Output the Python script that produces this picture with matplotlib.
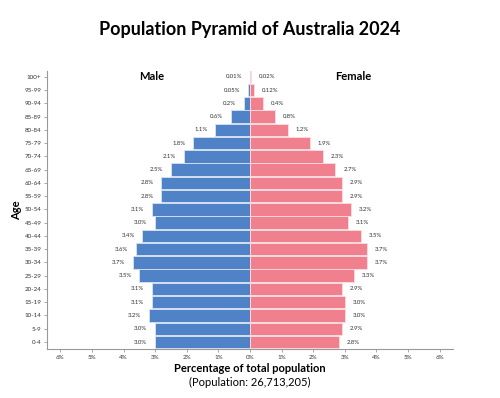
import matplotlib
matplotlib.use("Agg")
import matplotlib.pyplot as plt

plt.rcParams['font.family'] = ['Lato', 'DejaVu Sans']

age_groups = ['100+', '95-99', '90-94', '85-89', '80-84', '75-79', '70-74', '65-69',
              '60-64', '55-59', '50-54', '45-49', '40-44', '35-39', '30-34', '25-29',
              '20-24', '15-19', '10-14', '5-9', '0-4']
male = [0.01, 0.05, 0.2, 0.6, 1.1, 1.8, 2.1, 2.5, 2.8, 2.8, 3.1, 3.0, 3.4, 3.6, 3.7, 3.5,
        3.1, 3.1, 3.2, 3.0, 3.0]
female = [0.02, 0.12, 0.4, 0.8, 1.2, 1.9, 2.3, 2.7, 2.9, 2.9, 3.2, 3.1, 3.5, 3.7, 3.7, 3.3,
          2.9, 3.0, 3.0, 2.9, 2.8]
male_labels = ['0.01%', '0.05%', '0.2%', '0.6%', '1.1%', '1.8%', '2.1%', '2.5%', '2.8%', '2.8%',
               '3.1%', '3.0%', '3.4%', '3.6%', '3.7%', '3.5%', '3.1%', '3.1%', '3.2%', '3.0%', '3.0%']
female_labels = ['0.02%', '0.12%', '0.4%', '0.8%', '1.2%', '1.9%', '2.3%', '2.7%', '2.9%', '2.9%',
                 '3.2%', '3.1%', '3.5%', '3.7%', '3.7%', '3.3%', '2.9%', '3.0%', '3.0%', '2.9%', '2.8%']
xticks = [-6, -5, -4, -3, -2, -1, 0, 1, 2, 3, 4, 5, 6]
xtick_labels = ['6%', '5%', '4%', '3%', '2%', '1%', '0%', '1%', '2%', '3%', '4%', '5%', '6%']

blue = '#4f82c7'
pink = '#f0808e'

fig = plt.figure(figsize=(5, 3.98), dpi=100)
ax = fig.add_axes([0.094, 0.123, 0.812, 0.699])

n = len(age_groups)
ypos = [n - 1 - i for i in range(n)]

ax.barh(ypos, [-m for m in male], height=0.94, color=blue, edgecolor='#d8e3f3', linewidth=0.6)
ax.barh(ypos, female, height=0.94, color=pink, edgecolor='#fbdde1', linewidth=0.6)

for y, m, lab in zip(ypos, male, male_labels):
    ax.text(-m - 0.25, y, lab, ha='right', va='center', fontsize=4.3, color='#333333')
for y, f, lab in zip(ypos, female, female_labels):
    ax.text(f + 0.25, y, lab, ha='left', va='center', fontsize=4.3, color='#333333')

ax.set_xlim(-6.42, 6.42)
ax.set_ylim(-0.53, n - 0.55)
ax.set_yticks(ypos)
ax.set_yticklabels(age_groups, fontsize=4.5, color='#333333')
ax.set_xticks(xticks)
ax.set_xticklabels(xtick_labels, fontsize=4.5, color='#333333')
ax.tick_params(axis='both', length=2, width=0.6, color='#999999', pad=2)

for s in ['top', 'right']:
    ax.spines[s].set_visible(False)
for s in ['left', 'bottom']:
    ax.spines[s].set_color('#999999')
    ax.spines[s].set_linewidth(0.8)

ax.text(-3.1, n - 1, 'Male', ha='center', va='center', fontsize=8, fontweight='bold')
ax.text(3.25, n - 1, 'Female', ha='center', va='center', fontsize=8, fontweight='bold')

ax.set_ylabel('Age', fontsize=8, fontweight='bold', labelpad=2)

fig.text(0.5, 0.925, 'Population Pyramid of Australia 2024', ha='center', va='center',
         fontsize=13, fontweight='bold')
fig.text(0.5, 0.075, 'Percentage of total population', ha='center', va='center',
         fontsize=8, fontweight='bold')
fig.text(0.5, 0.04, '(Population: 26,713,205)', ha='center', va='center', fontsize=8)

fig.savefig('out.png', dpi=100, facecolor='white')
